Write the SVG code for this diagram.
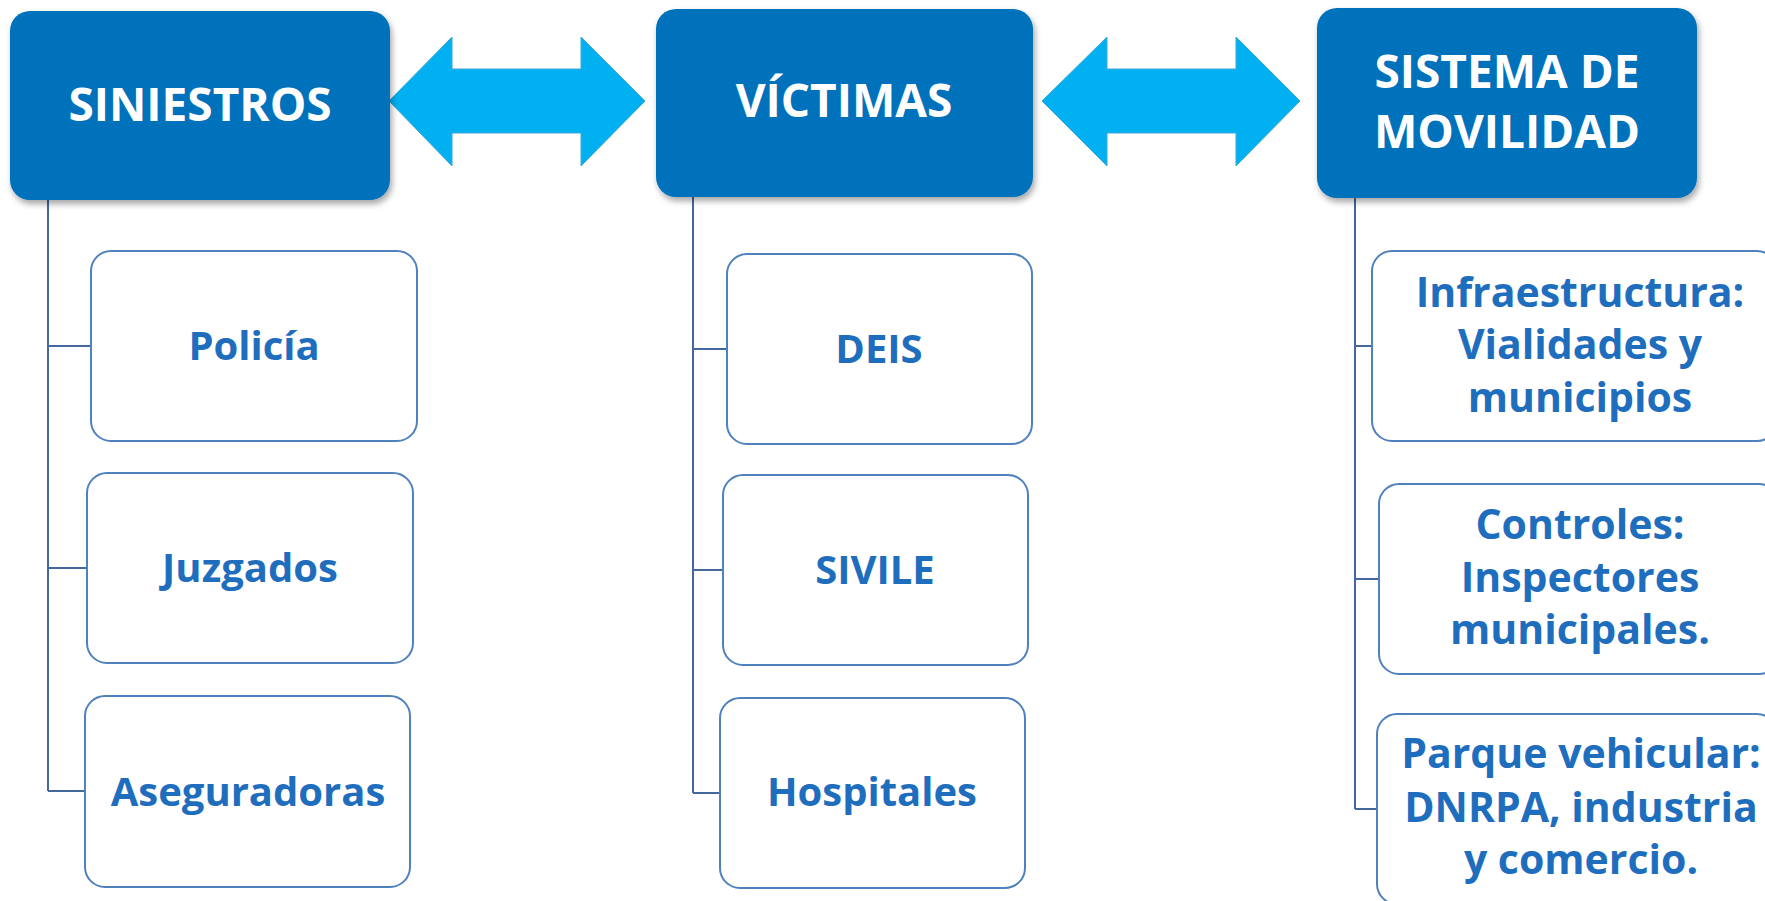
<svg xmlns="http://www.w3.org/2000/svg" width="1765" height="901" viewBox="0 0 1765 901">
<defs>
<style>
.hdr{fill:#0271BB;}
.hdrt{fill:#FFFFFF;font-family:"Open Sans","Liberation Sans",sans-serif;font-weight:700;font-size:46px;text-anchor:middle;}
.child{fill:#FFFFFF;stroke:#4F81BD;stroke-width:2;}
.ct{fill:#1F6EBE;font-family:"Open Sans","Liberation Sans",sans-serif;font-weight:700;font-size:40px;text-anchor:middle;}
.ct3{font-size:41px;}
.conn{fill:none;stroke:#44679E;stroke-width:2;}
.arr{fill:#00B0F0;stroke:#3BA7D6;stroke-width:1;}
</style>
<filter id="sh" x="-10%" y="-10%" width="125%" height="130%">
<feDropShadow dx="2" dy="4" stdDeviation="3" flood-color="#000000" flood-opacity="0.35"/>
</filter>
</defs>
<rect width="1765" height="901" fill="#FFFFFF"/>

<g id="connectors">
<path class="conn" d="M48,199 V791 M48,346 H91 M48,568 H87 M48,791 H85"/>
<path class="conn" d="M693,197 V793 M693,349 H727 M693,570 H723 M693,793 H720"/>
<path class="conn" d="M1355,198 V809 M1355,346 H1372 M1355,579 H1379 M1355,809 H1377"/>
<polygon class="arr" points="389,101 452,37 452,69 581,69 581,37 645,101 581,166 581,133 452,133 452,166"/>
<polygon class="arr" points="1042,101 1107,37 1107,69 1236,69 1236,37 1300,101 1236,166 1236,133 1107,133 1107,166"/>
</g>

<g id="siniestros">
<rect class="hdr" x="10" y="11" width="380" height="189" rx="20" filter="url(#sh)"/>
<text class="hdrt" x="200" y="121" font-size="45">SINIESTROS</text>
</g>
<g id="victimas">
<rect class="hdr" x="656" y="9" width="377" height="188" rx="20" filter="url(#sh)"/>
<text class="hdrt" x="844" y="117">VÍCTIMAS</text>
</g>
<g id="sistema">
<rect class="hdr" x="1317" y="8" width="380" height="190" rx="20" filter="url(#sh)"/>
<text class="hdrt" x="1507" y="88">SISTEMA DE</text>
<text class="hdrt" x="1507" y="148">MOVILIDAD</text>
</g>

<g id="policia">
<rect class="child" x="91" y="251" width="326" height="190" rx="20"/>
<text class="ct" x="254" y="360">Policía</text>
</g>
<g id="juzgados">
<rect class="child" x="87" y="473" width="326" height="190" rx="20"/>
<text class="ct" x="250" y="582">Juzgados</text>
</g>
<g id="aseguradoras">
<rect class="child" x="85" y="696" width="325" height="191" rx="20"/>
<text class="ct" x="248" y="806">Aseguradoras</text>
</g>

<g id="deis">
<rect class="child" x="727" y="254" width="305" height="190" rx="20"/>
<text class="ct" x="879" y="363">DEIS</text>
</g>
<g id="sivile">
<rect class="child" x="723" y="475" width="305" height="190" rx="20"/>
<text class="ct" x="875" y="584">SIVILE</text>
</g>
<g id="hospitales">
<rect class="child" x="720" y="698" width="305" height="190" rx="20"/>
<text class="ct" x="872" y="806">Hospitales</text>
</g>

<g id="infraestructura">
<rect class="child" x="1372" y="251" width="405" height="190" rx="20"/>
<text class="ct ct3" x="1580" y="307">Infraestructura:</text>
<text class="ct ct3" x="1580" y="359">Vialidades y</text>
<text class="ct ct3" x="1580" y="412">municipios</text>
</g>
<g id="controles">
<rect class="child" x="1379" y="484" width="400" height="190" rx="20"/>
<text class="ct ct3" x="1580" y="539">Controles:</text>
<text class="ct ct3" x="1580" y="592">Inspectores</text>
<text class="ct ct3" x="1580" y="644">municipales.</text>
</g>
<g id="parque">
<rect class="child" x="1377" y="714" width="400" height="190" rx="20"/>
<text class="ct ct3" x="1581" y="768">Parque vehicular:</text>
<text class="ct ct3" x="1581" y="822">DNRPA, industria</text>
<text class="ct ct3" x="1581" y="874">y comercio.</text>
</g>
</svg>
